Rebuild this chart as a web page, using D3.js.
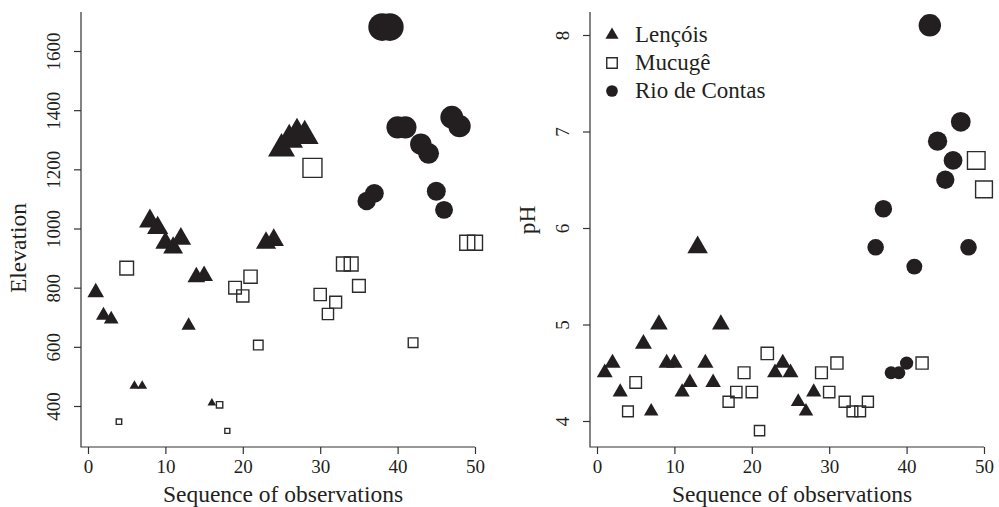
<!DOCTYPE html>
<html>
<head>
<meta charset="utf-8">
<script src="https://cdn.jsdelivr.net/npm/d3@7"></script>
<style>
  body { margin: 0; background: #fff; }
  text { font-family: "Liberation Serif", "Times New Roman", serif; fill: #231f20; }
</style>
</head>
<body>
<div id="plot"></div>
<script>
// observation number, site and measured values
var observation = [1, 2, 3, 4, 5, 6, 7, 8, 9, 10, 11, 12, 13, 14, 15, 16, 17, 18, 19, 20,
  21, 22, 23, 24, 25, 26, 27, 28, 29, 30, 31, 32, 33, 34, 35, 36, 37, 38, 39, 40,
  41, 42, 43, 44, 45, 46, 47, 48, 49, 50];

var site = ['L', 'L', 'L', 'M', 'M', 'L', 'L', 'L', 'L', 'L', 'L', 'L', 'L', 'L', 'L', 'L', 'M', 'M', 'M', 'M',
  'M', 'M', 'L', 'L', 'L', 'L', 'L', 'L', 'M', 'M', 'M', 'M', 'M', 'M', 'M', 'R', 'R', 'R', 'R', 'R',
  'R', 'M', 'R', 'R', 'R', 'R', 'R', 'R', 'M', 'M'];

var elevation = [784, 706, 693, 347, 866, 468, 468, 1025, 1002, 951, 935, 965, 672, 836, 840, 410, 404, 316, 800, 772,
  837, 606, 951, 961, 1270, 1300, 1320, 1313, 1205, 777, 711, 751, 880, 880, 806, 1093, 1119, 1681, 1681, 1342,
  1342, 614, 1285, 1254, 1126, 1063, 1376, 1346, 952, 952];

var ph = [4.5, 4.6, 4.3, 4.1, 4.4, 4.8, 4.1, 5.0, 4.6, 4.6, 4.3, 4.4, 5.8, 4.6, 4.4, 5.0, 4.2, 4.3, 4.5, 4.3,
  3.9, 4.7, 4.5, 4.6, 4.5, 4.2, 4.1, 4.3, 4.5, 4.3, 4.6, 4.2, 4.1, 4.1, 4.2, 5.8, 6.2, 4.5, 4.5, 4.6,
  5.6, 4.6, 8.1, 6.9, 6.5, 6.7, 7.1, 5.8, 6.7, 6.4];

var siteNames = ['Lençóis', 'Mucugê', 'Rio de Contas'];
var siteCodes = ['L', 'M', 'R'];

var xTicks = [0, 10, 20, 30, 40, 50];
var elevTicks = [400, 600, 800, 1000, 1200, 1400, 1600];
var phTicks = [4, 5, 6, 7, 8];

var ink = '#231f20';

var svg = d3.select("#plot")
  .append("svg")
  .attr("width", 999)
  .attr("height", 507);

// R style symbols: s is the symbol "size" in px
function markerPath(code, s) {
  var r0 = 0.375 * s;
  if (code == 'L') {
    var r = 1.5551 * r0, yc = 0.7776 * r0, hw = 1.3468 * r0;
    return `M0,${-r}L${hw},${yc}L${-hw},${yc}Z`;
  }
  else if (code == 'M') {
    return `M${-r0},${-r0}H${r0}V${r0}H${-r0}Z`;
  }
  else {
    return d3.arc()({ innerRadius: 0, outerRadius: r0 + 0.6, startAngle: 0, endAngle: 2 * Math.PI });
  }
}

function drawMarker(g, code, s, px, py) {
  var p = g.append("path")
    .attr("d", markerPath(code, s))
    .attr("transform", `translate(${px},${py})`);
  if (code == 'M') {
    p.attr("fill", "none").attr("stroke", "#2b2b2b").attr("stroke-width", 1.4);
  } else {
    p.attr("fill", ink);
  }
}

function drawPanel(opt) {
  var x = d3.scaleLinear().domain([0, 50]).range(opt.xRange);
  var y = d3.scaleLinear().domain(opt.yDomain).range(opt.yRange);
  var g = svg.append("g");

  // L shaped box
  g.append("path")
    .attr("d", `M${opt.left},${opt.top}V${opt.bottom}H${opt.right}`)
    .attr("fill", "none")
    .attr("stroke", "#333")
    .attr("stroke-width", 1.2);

  // x axis
  var gx = g.append("g")
    .attr("transform", `translate(0, ${opt.bottom})`)
    .call(d3.axisBottom(x).tickValues(xTicks).tickFormat(d3.format("d"))
      .tickSize(7).tickSizeOuter(0).tickPadding(6));
  gx.select(".domain").remove();
  gx.selectAll("line").attr("stroke", "#333").attr("stroke-width", 1.2);
  gx.selectAll("text")
    .style("font-size", "19px")
    .attr("fill", ink);

  // y axis, labels turned like R
  var gy = g.append("g")
    .attr("transform", `translate(${opt.left}, 0)`)
    .call(d3.axisLeft(y).tickValues(opt.yTicks).tickFormat(d3.format("d")).tickSize(7).tickSizeOuter(0));
  gy.select(".domain").remove();
  gy.selectAll("line").attr("stroke", "#333").attr("stroke-width", 1.2);
  gy.selectAll("text")
    .attr("transform", "rotate(-90)")
    .attr("x", 0)
    .attr("y", -21)
    .attr("dy", 0)
    .attr("text-anchor", "middle")
    .style("font-size", "19px")
    .attr("fill", ink);

  // axis titles
  g.append("text")
    .attr("x", (opt.left + opt.right) / 2 + 5)
    .attr("y", 502)
    .attr("text-anchor", "middle")
    .style("font-size", "23.5px")
    .text("Sequence of observations");

  g.append("text")
    .attr("transform", `translate(${opt.left - 55}, ${opt.titleY}) rotate(-90)`)
    .attr("text-anchor", "middle")
    .style("font-size", "23.5px")
    .text(opt.title);

  // points in observation order
  for (var i = 0; i < observation.length; i++) {
    var v = opt.values[i];
    drawMarker(g, site[i], opt.size(v), x(observation[i]), y(v));
  }
  return g;
}

drawPanel({
  left: 81, right: 475, top: 12, bottom: 447,
  xRange: [88, 475], yDomain: [400, 1600], yRange: [406, 51],
  yTicks: elevTicks, values: elevation, title: "Elevation", titleY: 248,
  size: function(v) { return v * 0.021; }
});

var right = drawPanel({
  left: 590, right: 984, top: 12, bottom: 447,
  xRange: [597, 984], yDomain: [4, 8], yRange: [421, 35],
  yTicks: phTicks, values: ph, title: "pH", titleY: 220,
  size: function(v) { return v * 3.5; }
});

// legend
var legend = right.append("g");
siteCodes.forEach(function(code, i) {
  var ly = 35 + i * 28;
  drawMarker(legend, code, code == 'L' ? 13 : 14, 612, ly);
  legend.append("text")
    .attr("x", 635)
    .attr("y", ly + 7)
    .style("font-size", "23px")
    .text(siteNames[i]);
});
</script>
</body>
</html>
